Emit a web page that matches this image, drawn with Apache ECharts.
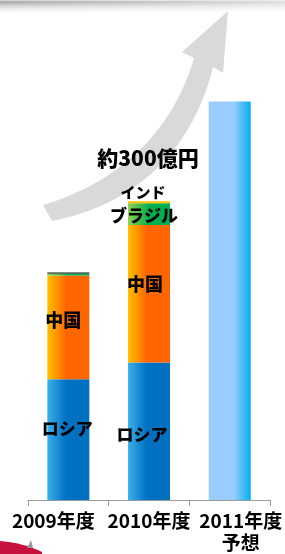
<!DOCTYPE html>
<html><head><meta charset="utf-8">
<script src="https://cdn.jsdelivr.net/npm/echarts@6/dist/echarts.min.js"></script>
<style>html,body{margin:0;padding:0;background:#fff}#c{width:285px;height:554px}</style>
</head><body><div id="c"></div>
<script>
// ---- data ----
const categories = ['2009年度', '2010年度', '2011年度\n予想'];
const seriesNames = ['ロシア', '中国', 'ブラジル', 'インド', '予想'];
const russia   = [91, 103.5, null];
const china    = [78, 103.5, null];
const brazil   = [1.5, 16.5, null];
const india    = [0.75, 1.5, null];
const forecast = [null, null, 300];
const totalText = '約300億円';

// ---- styling helpers ----
const FONT = '"Noto Sans CJK JP", sans-serif';
function hg(stops) { return { type: 'linear', x: 0, y: 0, x2: 1, y2: 0, colorStops: stops.map(s => ({ offset: s[0], color: s[1] })) }; }
const colors = {
  russia: hg([[0, '#3AB0EC'], [0.45, '#0070C0'], [1, '#0070C0']]),
  china: hg([[0, '#FFC000'], [0.45, '#FF6600'], [1, '#FF6600']]),
  brazil: hg([[0, '#92D050'], [0.5, '#00B050'], [1, '#00B050']]),
  india: '#FFC000',
  forecast: hg([[0, '#99CCFF'], [0.6, '#99CCFF'], [1, '#00B0F0']])
};
const barLabel = { color: '#000', fontFamily: FONT, fontWeight: 900, fontSize: 17 };
const labelCfg = {
  russia: [{ show: true, position: 'inside', offset: [-1, -11] }, { show: true, position: 'inside', offset: [-7, 3] }],
  china: [{ show: true, position: 'inside', offset: [-5, -7], fontSize: 18 }, { show: true, position: 'inside', offset: [-4, -10], fontSize: 18 }],
  brazil: [null, { show: true, position: 'inside', offset: [-5, 1], fontSize: 17 }],
  india: [null, { show: true, position: 'top', distance: 1, offset: [-6, 0], fontSize: 15 }]
};
function build(values, name, key) {
  return values.map((v, i) => {
    const item = { value: v };
    const lc = labelCfg[key] && labelCfg[key][i];
    if (lc) item.label = Object.assign({ formatter: name }, barLabel, lc);
    if (key === 'india' && i === 0) item.itemStyle = { color: '#111' };
    return item;
  });
}
const series = [
  ['russia', russia, seriesNames[0]],
  ['china', china, seriesNames[1]],
  ['brazil', brazil, seriesNames[2]],
  ['india', india, seriesNames[3]],
  ['forecast', forecast, seriesNames[4]]
].map(([key, vals, name]) => ({
  type: 'bar', name, stack: 'total', barWidth: 42,
  itemStyle: { color: colors[key] },
  label: { show: false },
  data: build(vals, name, key),
  z: 3
}));

// decorative arrow outline from cubic beziers
function bez(p0, p1, p2, p3, n) {
  const pts = [];
  for (let k = 0; k <= n; k++) {
    const t = k / n, u = 1 - t;
    pts.push([u*u*u*p0[0] + 3*u*u*t*p1[0] + 3*u*t*t*p2[0] + t*t*t*p3[0],
              u*u*u*p0[1] + 3*u*u*t*p1[1] + 3*u*t*t*p2[1] + t*t*t*p3[1]]);
  }
  return pts;
}
const arrowPts = [].concat(
  bez([43, 205], [110, 185], [170, 140], [194, 58], 30),
  [[182, 52], [228, 11], [223, 73]],
  bez([213, 67], [190, 160], [125, 207], [52, 221], 30)
);
const logoPts = [[0, 541]].concat(bez([0, 541], [15, 542], [30, 546], [42, 552], 10).slice(1), [[42, 554], [0, 554]]);

const axisFont = { fontFamily: FONT, fontSize: 19, fontWeight: 'bold', lineHeight: 22, color: '#000' };
const chart = echarts.init(document.getElementById('c'), null, { renderer: 'canvas' });
chart.setOption({
  backgroundColor: '#fff',
  animation: false,
  grid: { left: 28, right: 14, top: 2, bottom: 52, containLabel: false },
  xAxis: {
    type: 'category', data: categories,
    axisLine: { lineStyle: { color: '#9a9a9a', width: 1 } },
    axisTick: { show: true, length: 6, lineStyle: { color: '#9a9a9a' } },
    axisLabel: Object.assign({
      interval: 0, margin: 10,
      formatter: (v, i) => {
        const key = ['a', 'b', 'c'][i];
        return v.split('\n').map(s => '{' + key + '|' + s + '}').join('\n');
      },
      rich: {
        a: Object.assign({ padding: [0, 30, 0, 0] }, axisFont),
        b: Object.assign({}, axisFont),
        c: Object.assign({ padding: [0, 0, 0, 22] }, axisFont)
      }
    }, axisFont)
  },
  yAxis: { type: 'value', min: 0, max: 375, show: false, splitLine: { show: false } },
  series,
  graphic: [
    { type: 'rect', z: 0, shape: { x: 0, y: 0, width: 285, height: 15 },
      style: { fill: { type: 'linear', x: 0, y: 0, x2: 0, y2: 1, colorStops: [
        { offset: 0, color: '#e6e6e6' }, { offset: 0.12, color: '#a6a6a6' }, { offset: 1, color: 'rgba(255,255,255,0)' }] } } },
    { type: 'rect', z: 0, shape: { x: 0, y: 0, width: 285, height: 15 },
      style: { fill: { type: 'linear', x: 0, y: 0, x2: 1, y2: 0, colorStops: [
        { offset: 0, color: 'rgba(255,255,255,0)' }, { offset: 1, color: 'rgba(255,255,255,0.6)' }] } } },
    { type: 'polygon', z: 0, shape: { points: arrowPts }, style: { fill: '#D9D9D9' } },
    { type: 'text', z: 10, style: { text: totalText, x: 148, y: 158, align: 'center', verticalAlign: 'middle',
      font: '900 21px "Noto Sans CJK JP", sans-serif', fill: '#000' } },
    { type: 'polygon', z: 0, shape: { points: logoPts }, style: { fill: '#C8103C' } },
    { type: 'polygon', z: 0, shape: { points: [[31, 540], [33, 548], [27, 548]] }, style: { fill: '#999' } }
  ]
});
</script></body></html>
